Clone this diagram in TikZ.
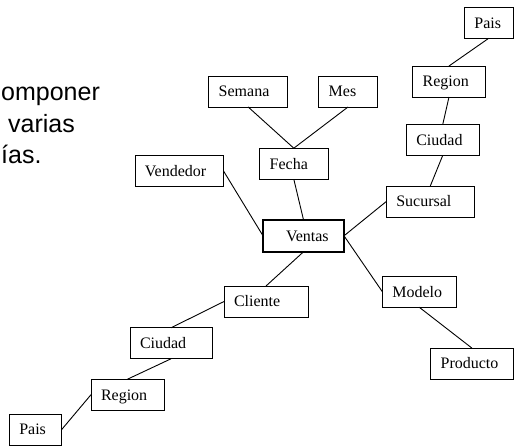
\documentclass[tikz,border=0pt]{standalone}
\usepackage{fontspec}
\setmainfont{Liberation Serif}
\newfontfamily\arialfont{Liberation Sans}
\begin{document}
\begin{tikzpicture}[x=1pt,y=-1pt,
  dbox/.style={draw, line width=0.9pt, inner xsep=10pt, inner ysep=0pt, outer sep=0pt,
    minimum height=31pt, align=left, text height=10.6pt, text depth=0pt,
    font=\fontsize{16}{19}\selectfont},
  conn/.style={line width=0.9pt},
  bigtext/.style={anchor=base west, inner sep=0pt, font=\arialfont\fontsize{25}{30}\selectfont}]
\useasboundingbox (0,0) rectangle (514,445);
% clipped text
\node[bigtext] (t1) at (1,100) {omponer};
\node[bigtext] (t2) at (8,132.5) {varias};
\node[bigtext] (t3) at (1,163.5) {ías.};
% boxes
\node[dbox, text width=59pt] (semana) at (248.2,91.5) {Semana};
\node[dbox, text width=38.6pt] (mes) at (348,91.5) {Mes};
\node[dbox, text width=28.7pt] (paisR) at (488.7,22.8) {Pais};
\node[dbox, text width=52.6pt] (regionR) at (449,81.5) {Region};
\node[dbox, text width=53pt] (ciudadR) at (442.8,139.7) {Ciudad};
\node[dbox, text width=68pt] (sucursal) at (430.3,201.5) {Sucursal};
\node[dbox, text width=48.3pt] (fecha) at (293.8,163.7) {Fecha};
\node[dbox, text width=68.7pt] (vendedor) at (179.3,171.2) {Vendedor};
\node[dbox, text width=61pt, line width=1.8pt, minimum height=32pt] (ventas) at (303.5,235.8) {\hspace*{13pt}Ventas};
\node[dbox, text width=53.7pt] (modelo) at (419.2,291.7) {Modelo};
\node[dbox, text width=62.3pt] (producto) at (471.8,363.5) {Producto};
\node[dbox, text width=64pt] (cliente) at (266,301.5) {Cliente};
\node[dbox, text width=62pt] (ciudadL) at (171,343.3) {Ciudad};
\node[dbox, text width=53pt] (regionL) at (127.5,394.7) {Region};
\node[dbox, text width=32.4pt] (paisL) at (35.5,429.5) {Pais};
% connectors
\draw[conn] (semana.south) -- (fecha.north);
\draw[conn] (mes.south) -- (fecha.north);
\draw[conn] (fecha.south) -- (ventas.north);
\draw[conn] (vendedor.east) -- (ventas.west);
\draw[conn] (ventas.east) -- (sucursal.west);
\draw[conn] (ventas.east) -- (modelo.west);
\draw[conn] (ventas.south) -- (cliente.north);
\draw[conn] (modelo.south) -- (producto.north);
\draw[conn] (sucursal.north) -- (ciudadR.south);
\draw[conn] (ciudadR.north) -- (regionR.south);
\draw[conn] (regionR.north) -- (paisR.south);
\draw[conn] (cliente.west) -- (ciudadL.north);
\draw[conn] (ciudadL.south) -- (regionL.north);
\draw[conn] (regionL.west) -- (paisL.east);
\end{tikzpicture}
\end{document}
